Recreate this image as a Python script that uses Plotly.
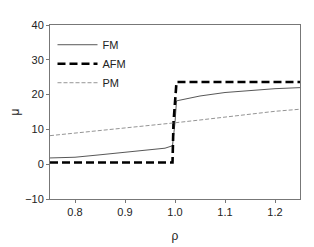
import plotly.graph_objects as go

rho_fm = [0.75, 0.80, 0.85, 0.90, 0.95, 0.98, 0.995, 1.0, 1.003, 1.05, 1.10, 1.15, 1.20, 1.25]
mu_fm = [1.8, 2.0, 2.7, 3.4, 4.0, 4.6, 5.3, 12.0, 18.2, 19.6, 20.6, 21.2, 21.7, 22.0]

rho_afm = [0.75, 0.80, 0.90, 0.995, 0.997, 1.003, 1.10, 1.20, 1.25]
mu_afm = [0.5, 0.5, 0.5, 0.5, 12.0, 23.6, 23.6, 23.6, 23.6]

rho_pm = [0.75, 0.80, 0.85, 0.90, 0.95, 1.00, 1.05, 1.10, 1.15, 1.20, 1.25]
mu_pm = [8.2, 8.9, 9.7, 10.4, 11.1, 11.9, 12.7, 13.6, 14.5, 15.2, 15.8]

fig = go.Figure()
fig.add_trace(go.Scatter(x=rho_fm, y=mu_fm, mode="lines", name="FM",
                         line=dict(color="#444444", width=0.9)))
fig.add_trace(go.Scatter(x=rho_afm, y=mu_afm, mode="lines", name="AFM",
                         line=dict(color="black", width=2.6, dash="8px,4px")))
fig.add_trace(go.Scatter(x=rho_pm, y=mu_pm, mode="lines", name="PM",
                         line=dict(color="#888888", width=0.9, dash="4px,2px")))

axis_common = dict(showgrid=False, zeroline=False, showline=True, linecolor="#777777",
                   linewidth=1, mirror=True, ticks="outside", ticklen=3, automargin=False,
                   tickcolor="#777777", tickfont=dict(size=11, color="#222222"))
fig.update_layout(
    width=306, height=239,
    margin=dict(l=42, r=14, t=17, b=48, autoexpand=False),
    paper_bgcolor="white", plot_bgcolor="white",
    font=dict(family="Liberation Sans, Arial, sans-serif", size=11, color="#222222"),
    xaxis=dict(range=[0.75, 1.25], tickvals=[0.8, 0.9, 1.0, 1.1, 1.2],
               ticktext=["0.8", "0.9", "1.0", "1.1", "1.2"],
               title=dict(text="ρ", standoff=14, font=dict(size=12)), **axis_common),
    yaxis=dict(range=[-10, 40], tickvals=[-10, 0, 10, 20, 30, 40],
               title=dict(text="μ", standoff=14, font=dict(size=12)), **axis_common),
    legend=dict(x=0.01, y=0.97, xanchor="left", yanchor="top", bgcolor="rgba(0,0,0,0)",
                font=dict(size=11), tracegroupgap=0, itemwidth=40),
    showlegend=True,
)
fig.write_html("out.html")
